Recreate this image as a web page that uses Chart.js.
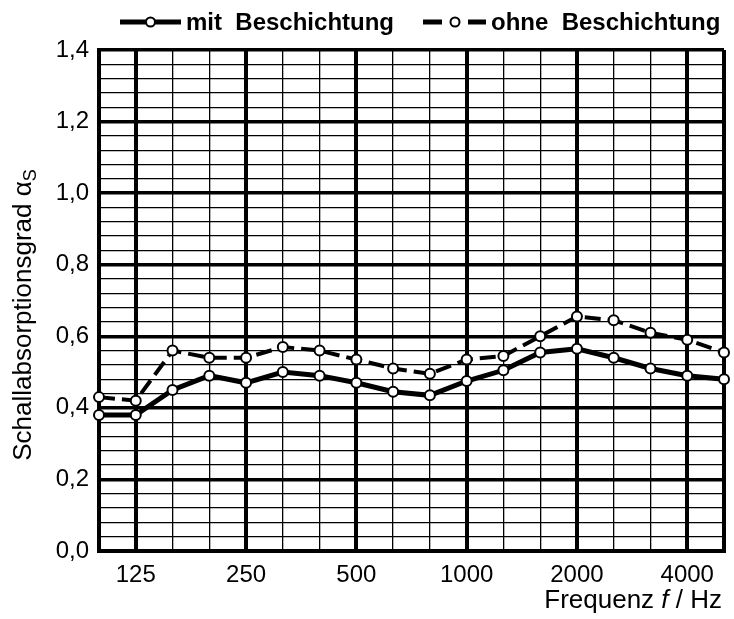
<!DOCTYPE html>
<html>
<head>
<meta charset="utf-8">
<script src="https://cdn.jsdelivr.net/npm/chart.js@4.4.1/dist/chart.umd.min.js"></script>
<style>
  html, body { margin: 0; padding: 0; background: #fff; }
</style>
</head>
<body>
<canvas id="absorptionChart" width="734" height="619"></canvas>
<script>
const frequencies = ['100', '125', '160', '200', '250', '315', '400', '500', '630',
  '800', '1000', '1250', '1600', '2000', '2500', '3150', '4000', '5000'];
const tickLabels = ['125', '250', '500', '1000', '2000', '4000'];
const mitBeschichtung = [0.38, 0.38, 0.45, 0.49, 0.47, 0.50, 0.49, 0.47, 0.445,
  0.435, 0.475, 0.505, 0.555, 0.565, 0.54, 0.51, 0.49, 0.48];
const ohneBeschichtung = [0.43, 0.42, 0.56, 0.54, 0.54, 0.57, 0.56, 0.535, 0.51,
  0.495, 0.535, 0.545, 0.60, 0.655, 0.645, 0.61, 0.59, 0.555];
const yMin = 0, yMax = 1.4, yMajor = 0.2, yMinor = 0.04;

const FONT = '"Liberation Sans", Arial, Helvetica, sans-serif';

function isMajorY(v) {
  const r = v / yMajor;
  return Math.abs(r - Math.round(r)) < 1e-6;
}

function isMajorX(index) {
  return index === 0 || index === frequencies.length - 1 || tickLabels.includes(frequencies[index]);
}

// legend + axis titles (mixed styles, drawn by hand)
const decorPlugin = {
  id: 'decor',
  afterDraw(chart) {
    const ctx = chart.ctx;
    ctx.save();
    ctx.strokeStyle = '#000';
    ctx.fillStyle = '#000';

    // legend item 1: solid line with open circle
    const ly = 22;
    ctx.lineWidth = 5;
    ctx.setLineDash([]);
    ctx.beginPath(); ctx.moveTo(120, ly); ctx.lineTo(181, ly); ctx.stroke();
    drawDot(ctx, 150.5, ly);

    // legend item 2: dashed line with open circle
    ctx.beginPath(); ctx.moveTo(423, ly); ctx.lineTo(442, ly); ctx.stroke();
    ctx.beginPath(); ctx.moveTo(468, ly); ctx.lineTo(486, ly); ctx.stroke();
    drawDot(ctx, 455, ly);

    ctx.font = 'bold 24px ' + FONT;
    ctx.textBaseline = 'alphabetic';
    ctx.textAlign = 'left';
    ctx.fillText('mit  Beschichtung', 186, 30);
    ctx.fillText('ohne  Beschichtung', 491, 30);

    // y title, rotated, with subscript
    ctx.save();
    ctx.translate(31, 315);
    ctx.rotate(-Math.PI / 2);
    ctx.font = '26px ' + FONT;
    const main = 'Schallabsorptionsgrad \u03B1';
    const w1 = ctx.measureText(main).width;
    ctx.font = '18px ' + FONT;
    const w2 = ctx.measureText('S').width;
    const start = -(w1 + w2) / 2;
    ctx.font = '26px ' + FONT;
    ctx.fillText(main, start, 0);
    ctx.font = '18px ' + FONT;
    ctx.fillText('S', start + w1, 5);
    ctx.restore();

    // x title, right aligned, italic f
    const parts = [
      { t: 'Frequenz ', f: '26px ' + FONT },
      { t: 'f', f: 'italic 26px ' + FONT },
      { t: ' / Hz', f: '26px ' + FONT }
    ];
    let total = 0;
    parts.forEach(p => { ctx.font = p.f; p.w = ctx.measureText(p.t).width; total += p.w; });
    let x = 722 - total;
    parts.forEach(p => { ctx.font = p.f; ctx.fillText(p.t, x, 608); x += p.w; });

    ctx.restore();
  }
};

function drawDot(ctx, x, y) {
  ctx.save();
  ctx.lineWidth = 2;
  ctx.fillStyle = '#fff';
  ctx.beginPath();
  ctx.arc(x, y, 4.5, 0, Math.PI * 2);
  ctx.fill();
  ctx.stroke();
  ctx.restore();
}

const ctx = document.getElementById('absorptionChart').getContext('2d');

new Chart(ctx, {
  type: 'line',
  data: {
    labels: frequencies,
    datasets: [
      {
        label: 'mit Beschichtung',
        data: mitBeschichtung,
        borderColor: '#000',
        borderWidth: 5,
        pointRadius: 5,
        pointBorderWidth: 2,
        pointBackgroundColor: '#fff',
        pointBorderColor: '#000',
        tension: 0,
        clip: false
      },
      {
        label: 'ohne Beschichtung',
        data: ohneBeschichtung,
        borderColor: '#000',
        borderWidth: 4,
        borderDash: [16, 7],
        pointRadius: 5,
        pointBorderWidth: 2,
        pointBackgroundColor: '#fff',
        pointBorderColor: '#000',
        tension: 0,
        clip: false
      }
    ]
  },
  options: {
    responsive: false,
    animation: false,
    layout: {
      padding: { left: 40, top: 50, right: 9, bottom: 0 }
    },
    scales: {
      x: {
        offset: false,
        afterFit(scale) { scale.height = 68; },
        ticks: {
          autoSkip: false,
          maxRotation: 0,
          padding: 10,
          color: '#000',
          font: { family: FONT, size: 24 },
          callback(value, index) {
            const f = frequencies[index];
            return tickLabels.includes(f) ? f : '';
          }
        },
        grid: {
          color: '#000',
          drawTicks: false,
          lineWidth: c => isMajorX(c.index) ? 4 : 1.3
        },
        border: { display: true, color: '#000', width: 4 }
      },
      y: {
        min: yMin,
        max: yMax,
        afterFit(scale) { scale.width = 59; },
        ticks: {
          stepSize: yMinor,
          autoSkip: false,
          padding: 10,
          color: '#000',
          font: { family: FONT, size: 24 },
          callback(value) {
            return isMajorY(value) ? value.toFixed(1).replace('.', ',') : '';
          }
        },
        grid: {
          color: '#000',
          drawTicks: false,
          lineWidth: c => isMajorY(c.tick.value) ? 3.5 : 1.3
        },
        border: { display: true, color: '#000', width: 4 }
      }
    },
    plugins: {
      legend: { display: false },
      tooltip: { enabled: false }
    }
  },
  plugins: [decorPlugin]
});
</script>
</body>
</html>
